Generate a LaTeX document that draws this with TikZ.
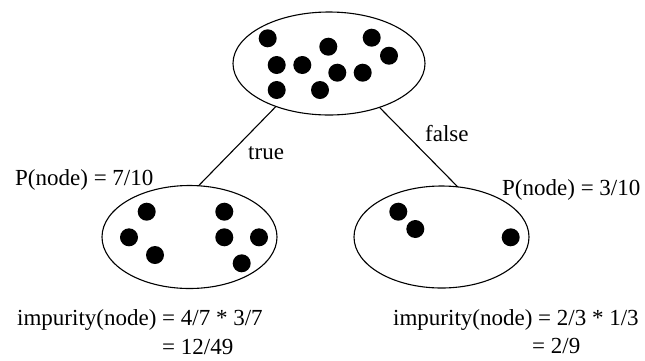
\documentclass[tikz,border=0pt]{standalone}
\usepackage{fontspec}
\setmainfont{Liberation Serif}
\usetikzlibrary{shapes.geometric}
\begin{document}
\begin{tikzpicture}[x=1pt,y=-1pt,
  set/.style={draw,line width=1.1pt,ellipse,inner sep=0pt,outer sep=0pt},
  dot/.style={fill=black},
  edge/.style={draw,line width=1.1pt},
  lbl/.style={anchor=base west,inner sep=0pt,font=\fontsize{23}{27}\selectfont}]
\useasboundingbox (0,0) rectangle (645,360);
\node[set,minimum width=192pt,minimum height=103pt] (root) at (329,63.5) {};
\node[set,minimum width=175pt,minimum height=103pt] (L) at (189.5,237) {};
\node[set,minimum width=175pt,minimum height=102pt] (R) at (441.5,237) {};
\foreach \p in {(267.7,38.3),(371.7,37.7),(328.3,46.7),(389,55.7),(276.7,65),(302.3,65),(337.3,72.7),(362.7,72.7),(276.7,90),(320,90)}
  \fill[dot] \p circle (9);
\foreach \p in {(146.7,211.7),(224.3,211.7),(129,237.3),(224.3,237.3),(259,237.3),(155,255),(241.7,263.3)}
  \fill[dot] \p circle (9);
\foreach \p in {(398.3,211.7),(415.3,229),(510.7,237.3)}
  \fill[dot] \p circle (9);
\draw[edge] (root.219.7) -- (L.80.9);
\draw[edge] (root.319.6) -- (R.72.4);
\node[lbl] (t) at (248,159) {true};
\node[lbl] (f) at (425,141.7) {false};
\node[lbl] (pl) at (15,185) {P(node) = 7/10};
\node[lbl] (pr) at (502,195) {P(node) = 3/10};
\node[lbl] (il) at (17,325) {impurity(node) = 4/7 * 3/7};
\node[lbl] (il2) at (162,354) {= 12/49};
\node[lbl] (ir) at (393,325) {impurity(node) = 2/3 * 1/3};
\node[lbl] (ir2) at (532,353) {= 2/9};
\end{tikzpicture}
\end{document}
